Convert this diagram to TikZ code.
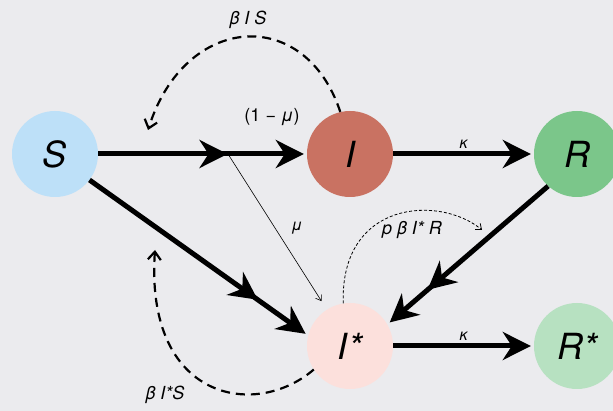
\documentclass[tikz,border=0pt]{standalone}
\usepackage{fontspec}
\setmainfont{TeX Gyre Heros}
\usetikzlibrary{arrows.meta, decorations.markings, positioning}
\definecolor{bggray}{RGB}{235,235,238}
\definecolor{colS}{RGB}{189,224,248}
\definecolor{colI}{RGB}{201,114,98}
\definecolor{colR}{RGB}{123,198,138}
\definecolor{colIs}{RGB}{252,224,220}
\definecolor{colRs}{RGB}{183,225,193}

\begin{document}
\begin{tikzpicture}[
    x=1pt, y=-1pt,
    comp/.style={circle, minimum size=86pt, inner sep=0pt, font=\fontsize{36}{36}\selectfont\itshape},
    flow/.style={line width=5pt, -{Stealth[length=28pt, width=28pt, inset=9pt]}, shorten >=3pt},
    midhead/.style={postaction={decorate}, decoration={markings, mark=at position #1 with {\arrow{Stealth[length=28pt, width=28pt, inset=9pt]}}}},
    split/.style={line width=0.6pt, -{Straight Barb[length=5pt, width=7pt]}, shorten >=10pt},
    infect/.style={line width=2.2pt, dash pattern=on 9pt off 6pt, -{Straight Barb[length=8pt, width=13pt]}},
    reinfect/.style={line width=0.8pt, dash pattern=on 3pt off 2pt, -{Straight Barb[length=5pt, width=8pt]}},
    lbl/.style={font=\fontsize{18}{18}\selectfont\itshape},
    small/.style={font=\fontsize{16}{16}\selectfont\itshape}
]
\useasboundingbox[fill=bggray] (0,0) rectangle (613,411);

% compartments
\node[comp, fill=colS] (S) at (55,154) {S};
\node[comp, fill=colI] (I) at (350,154) {I};
\node[comp, fill=colR] (R) at (577,154) {R};
\node[comp, fill=colIs] (Istar) at (350,346) {I*};
\node[comp, fill=colRs] (Rstar) at (577,346) {R*};

\coordinate (fork) at (228,154);
\coordinate (isIn) at (148,130);
\coordinate (isStarIn) at (155,250);
\coordinate (irIn) at (482,230);

% main flows
\draw[flow, midhead=0.62] (S) -- (I);
\draw[flow, midhead=0.77] (S.-37) -- (Istar.166);
\draw[flow, midhead=0.75] (R.228) -- (Istar.30);
\draw[flow] (I) -- node[above=0pt, small] {κ} (R);
\draw[flow] (Istar) -- node[above=0pt, small] {κ} (Rstar);
\draw[split] (fork) -- (Istar);

% infection feedback
\draw[infect] (I.103) .. controls (305,5) and (185,13) .. (isIn);
\draw[infect] (Istar.213) .. controls (255,420) and (145,400) .. (isStarIn);
\draw[reinfect] (Istar.99) .. controls (340,200) and (440,195) .. (irIn);

% labels
\node[lbl] (lbIS) at (248,20) {β I S};
\node[font=\fontsize{18}{18}\selectfont] (lbMu1) at (272,117) {(1 − \textit{μ})};
\node[small] (lbMu) at (297,228) {μ};
\node[lbl] (lbpIR) at (412,230) {p β I* R};
\node[lbl] (lbIsS) at (165,395) {β I*S};
\end{tikzpicture}
\end{document}
